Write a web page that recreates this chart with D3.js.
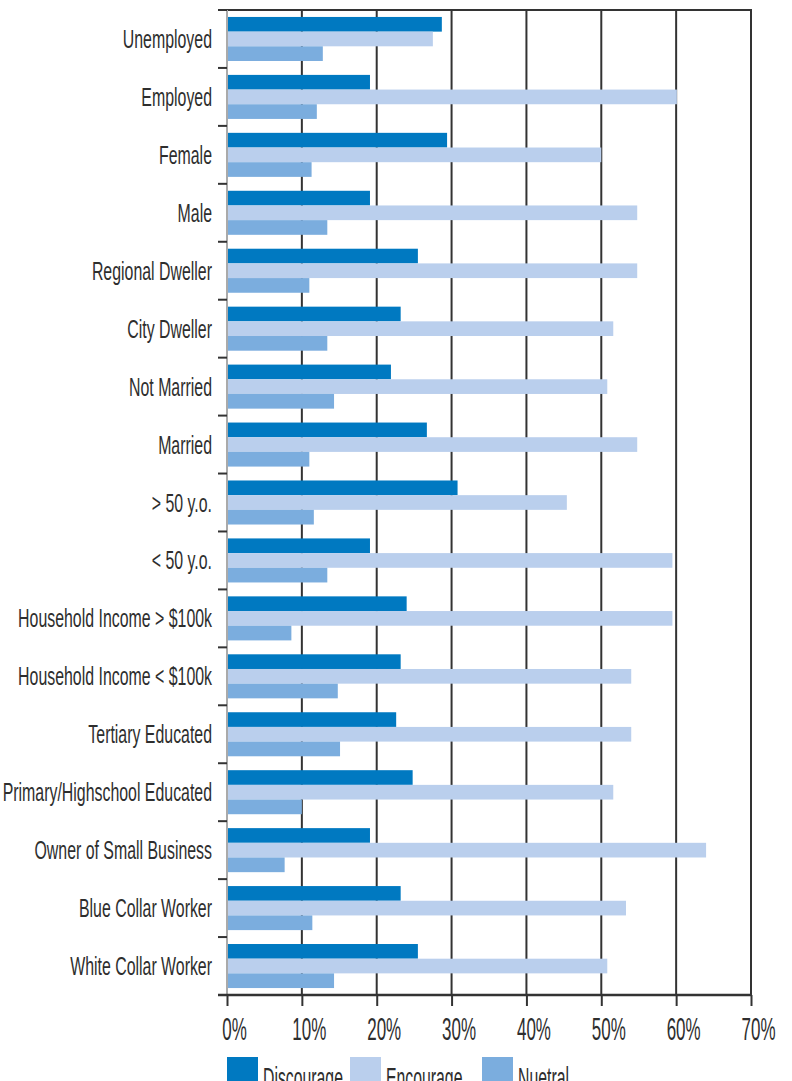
<!DOCTYPE html>
<html>
<head>
<meta charset="utf-8">
<script src="https://cdn.jsdelivr.net/npm/d3@7/dist/d3.min.js"></script>
<style>
  html, body { margin: 0; padding: 0; background: #fff; }
  svg { display: block; }
  text { font-family: "Liberation Sans Narrow", "Arial Narrow", "Liberation Sans", sans-serif; fill: #2e2e2e; }
</style>
</head>
<body>
<svg id="chart" width="792" height="1081"></svg>
<script>
// Survey groups, top to bottom
const categories = [
  "Unemployed", "Employed", "Female", "Male", "Regional Dweller", "City Dweller",
  "Not Married", "Married", "> 50 y.o.", "< 50 y.o.", "Household Income > $100k",
  "Household Income < $100k", "Tertiary Educated", "Primary/Highschool Educated",
  "Owner of Small Business", "Blue Collar Worker", "White Collar Worker"
];

const seriesNames = ["Discourage", "Encourage", "Nuetral"];

// Percent of respondents per group
const discourage = [28.7, 19.1, 29.4, 19.1, 25.5, 23.2, 21.9, 26.7, 30.8, 19.1, 24.0, 23.2, 22.6, 24.8, 19.1, 23.2, 25.5];
const encourage  = [27.5, 60.1, 50.0, 54.8, 54.8, 51.6, 50.8, 54.8, 45.4, 59.5, 59.5, 54.0, 54.0, 51.6, 64.0, 53.3, 50.8];
const neutral    = [12.8, 12.0, 11.3, 13.4, 11.0, 13.4, 14.3, 11.0, 11.6, 13.4, 8.6, 14.8, 15.1, 10.0, 7.7, 11.4, 14.3];

const xTicks = [0, 10, 20, 30, 40, 50, 60, 70];

const seriesValues = [discourage, encourage, neutral];
const colors = ["#0079c1", "#bacfed", "#7badde"];

const W = 792, H = 1081;
const margin = { top: 10, right: 41, bottom: 86, left: 227 };
const iw = W - margin.left - margin.right;
const ih = H - margin.top - margin.bottom;

const svg = d3.select("#chart");
const g = svg.append("g").attr("transform", `translate(${margin.left},${margin.top})`);

const x = d3.scaleLinear().domain([0, 70]).range([0, iw]);
const y0 = d3.scaleBand().domain(categories).range([0, ih]).paddingInner(0.24).paddingOuter(0.12);
const y1 = d3.scaleBand().domain(seriesNames).range([0, y0.bandwidth()]);

const dark = "#333";

// Horizontal squeeze so that a sample string set at `size` spans `width` px
// (the typeface is a tall, condensed one).
function squeeze(sample, size, width) {
  const t = svg.append("text").style("font-size", size + "px").text(sample);
  const w = t.node().getComputedTextLength();
  t.remove();
  return width / w;
}

// vertical grid lines (the 70% line closes the frame on the right)
g.append("g").selectAll("line")
  .data(xTicks.filter(d => d > 0))
  .join("line")
  .attr("x1", d => x(d)).attr("x2", d => x(d))
  .attr("y1", 0).attr("y2", ih)
  .attr("stroke", dark).attr("stroke-width", 2);

// top border
g.append("line")
  .attr("x1", -9).attr("x2", iw + 1).attr("y1", 0).attr("y2", 0)
  .attr("stroke", dark).attr("stroke-width", 2);

// bars
const rows = categories.map((c, i) => ({ cat: c, vals: seriesNames.map((s, k) => ({ s, k, v: seriesValues[k][i] })) }));
g.append("g").selectAll("g")
  .data(rows)
  .join("g")
  .attr("transform", d => `translate(0,${y0(d.cat)})`)
  .selectAll("rect")
  .data(d => d.vals)
  .join("rect")
  .attr("x", 0)
  .attr("y", d => y1(d.s))
  .attr("width", d => x(d.v))
  .attr("height", y1.bandwidth())
  .attr("fill", d => colors[d.k]);

// left axis line and category boundary ticks
g.append("line")
  .attr("x1", 0).attr("x2", 0).attr("y1", 0).attr("y2", ih)
  .attr("stroke", "#aaa").attr("stroke-width", 2);
g.append("g").selectAll("line")
  .data(d3.range(categories.length + 1))
  .join("line")
  .attr("x1", -9).attr("x2", 0)
  .attr("y1", i => i * y0.step()).attr("y2", i => i * y0.step())
  .attr("stroke", dark).attr("stroke-width", 2);

// category labels
const labelSize = 25;
const labelScale = squeeze("Household Income > $100k", labelSize, 194);
g.append("g").selectAll("text")
  .data(categories)
  .join("text")
  .attr("transform", d => `translate(-15,${y0(d) + y0.bandwidth() / 2}) scale(${labelScale},1)`)
  .attr("text-anchor", "end")
  .attr("dy", "0.36em")
  .style("font-size", labelSize + "px")
  .text(d => d);

// bottom axis
const tickSize = 31;
const tickScale = squeeze("10%", tickSize, 34);
const xAxis = d3.axisBottom(x).tickValues(xTicks).tickSize(11).tickSizeOuter(0).tickFormat(d => d + "%");
const ax = g.append("g").attr("transform", `translate(0,${ih})`).call(xAxis);
ax.attr("font-family", null).attr("font-size", null);
ax.select(".domain").attr("stroke", dark).attr("stroke-width", 2.5).attr("d", `M-9,0H${iw}`);
ax.selectAll(".tick line").attr("stroke", dark).attr("stroke-width", 2);
ax.selectAll(".tick text")
  .attr("y", 0).attr("dy", 0)
  .attr("transform", `translate(7,45) scale(${tickScale},1)`)
  .style("font-size", tickSize + "px")
  .attr("fill", "#2e2e2e");

// legend
const legendSize = 29;
const legendScale = squeeze("Discourage", legendSize, 80);
const legendX = [0, 123, 255];
const leg = svg.append("g").attr("transform", `translate(${margin.left},1057)`);
const items = leg.selectAll("g").data(seriesNames).join("g")
  .attr("transform", (d, i) => `translate(${legendX[i]},0)`);
items.append("rect")
  .attr("width", 31).attr("height", 40)
  .attr("fill", (d, i) => colors[i]);
items.append("text")
  .attr("transform", `translate(36,31) scale(${legendScale},1)`)
  .style("font-size", legendSize + "px")
  .text(d => d);
</script>
</body>
</html>
